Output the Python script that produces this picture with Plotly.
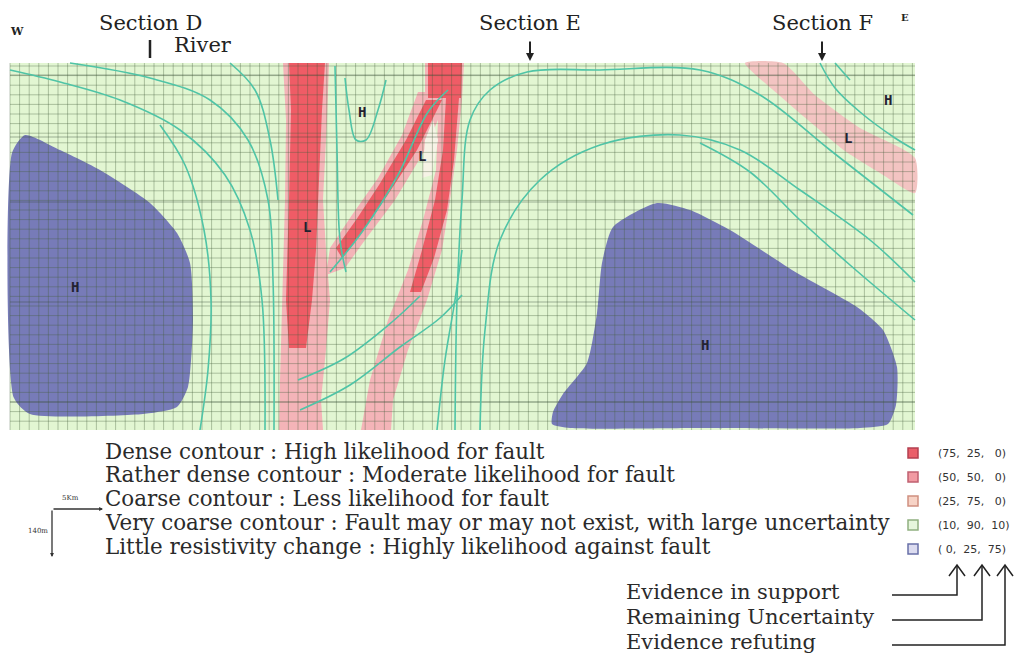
import plotly.graph_objects as go

# ---------------- data (map geometry, image pixel frame) ----------------
map_x = [10, 915]
map_y = [63, 430]
grid_step = 9.6
major_rows = [75, 137, 202, 302, 402]

blue_left = [(25, 135), (60, 150), (100, 170), (150, 203), (177, 233), (190, 263), (193, 320),
             (188, 387), (177, 407), (143, 414), (30, 414), (14, 398), (12, 153)]
blue_right = [(657, 203), (690, 210), (730, 230), (797, 273), (857, 307), (883, 330), (897, 367),
              (896, 405), (888, 424), (860, 428), (700, 428), (570, 428), (552, 424), (553, 412),
              (563, 394), (587, 363), (597, 313), (602, 263), (613, 227)]

pink_regions = [
    [(283, 63), (329, 63), (327, 120), (323, 200), (326, 250), (330, 300), (326, 350), (321, 400),
     (323, 430), (279, 430), (280, 380), (282, 300), (285, 200), (286, 120)],
    [(418, 92), (450, 92), (425, 150), (395, 200), (365, 240), (345, 268), (326, 275), (330, 248),
     (352, 215), (378, 178), (402, 135)],
    [(425, 63), (464, 63), (462, 100), (457, 150), (450, 200), (442, 250), (427, 300), (408, 350),
     (393, 400), (391, 430), (361, 430), (370, 380), (388, 320), (408, 270), (423, 220), (436, 170),
     (438, 120), (425, 100)],
]
pink_band_ne = [(745, 63), (783, 63), (815, 95), (860, 128), (915, 158), (915, 193), (880, 173),
                (845, 151), (815, 126), (780, 96)]
red_regions = [
    [(289, 63), (325, 63), (322, 110), (318, 200), (316, 250), (312, 300), (306, 348), (289, 348),
     (286, 300), (289, 200), (291, 110)],
    [(426, 100), (442, 100), (417, 150), (387, 196), (362, 232), (342, 258), (336, 248), (356, 220),
     (379, 185), (406, 140)],
    [(428, 63), (462, 63), (461, 98), (428, 98)],
    [(446, 98), (459, 98), (454, 160), (447, 210), (434, 258), (421, 292), (410, 292), (422, 250),
     (435, 200), (443, 150)],
]
white_spots = [[(425, 140), (433, 120), (438, 140), (432, 175), (422, 178)]]

contours = [
    [(10, 70), (60, 82), (120, 100), (180, 130), (225, 175), (250, 230), (262, 300), (265, 430)],
    [(70, 63), (150, 78), (210, 100), (248, 140), (268, 200), (273, 280), (274, 430)],
    [(160, 125), (185, 165), (204, 230), (211, 300), (208, 370), (200, 430)],
    [(230, 63), (255, 90), (270, 140), (278, 200)],
    [(335, 66), (337, 150), (340, 240), (346, 272)],
    [(345, 78), (349, 110), (356, 140), (366, 140), (378, 110), (386, 80)],
    [(330, 272), (362, 232), (398, 175), (428, 112), (448, 90)],
    [(300, 410), (350, 385), (400, 347), (440, 318), (462, 295)],
    [(298, 380), (345, 358), (392, 322), (420, 296)],
    [(437, 430), (445, 360), (455, 300), (462, 250)],
    [(455, 430), (457, 300), (462, 200), (470, 120), (490, 90), (527, 72), (600, 70), (700, 70),
     (760, 95), (830, 150), (913, 215)],
    [(480, 430), (485, 330), (500, 240), (540, 180), (600, 145), (680, 135), (740, 150),
     (800, 190), (870, 240), (915, 282)],
    [(700, 143), (750, 172), (800, 220), (850, 265), (915, 320)],
    [(820, 63), (835, 88), (860, 112), (895, 138), (915, 150)],
    [(835, 63), (850, 80)],
]
map_letters = [("H", 362, 112), ("L", 422, 156), ("L", 307, 227), ("H", 75, 287),
               ("H", 705, 345), ("H", 888, 100), ("L", 848, 138)]

sections = [("Section D", 150, 23, False), ("Section E", 530, 23, True), ("Section F", 822, 23, True)]

legend_texts = [
    "Dense contour : High likelihood for fault",
    "Rather dense contour : Moderate likelihood for fault",
    "Coarse contour : Less likelihood for fault",
    "Very coarse contour : Fault may or may not exist, with large uncertainty",
    "Little resistivity change : Highly likelihood against fault",
]
legend_codes = ["(75,  25,   0)", "(50,  50,   0)", "(25,  75,   0)", "(10,  90,  10)", "( 0,  25,  75)"]
swatch_fill = ["#ea5f6a", "#f19aa2", "#f7d3c6", "#e6f6dc", "#dcdcf0"]
swatch_line = ["#b44050", "#c06070", "#d09080", "#90b080", "#6870a8"]
evidence_labels = ["Evidence in support", "Remaining Uncertainty", "Evidence refuting"]

# ---------------- colours ----------------
BG_GREEN = "#e2f6d2"
BLUE = "#777bb8"
PINK = "#f4b4b8"
PINK_NE = "#f3c4c2"
RED = "#ef5c66"
TEAL = "#4fc4a6"
GRID = "rgba(70,95,60,0.36)"

fig = go.Figure()


def poly(pts, color, smooth=False):
    xs = [p[0] for p in pts] + [pts[0][0]]
    ys = [p[1] for p in pts] + [pts[0][1]]
    line = dict(width=0, color=color)
    if smooth:
        line.update(shape="spline", smoothing=0.6)
    fig.add_trace(go.Scatter(x=xs, y=ys, mode="lines", fill="toself", fillcolor=color,
                             line=line, hoverinfo="skip", showlegend=False))


# background of map
poly([(map_x[0], map_y[0]), (map_x[1], map_y[0]), (map_x[1], map_y[1]), (map_x[0], map_y[1])], BG_GREEN)
for r in pink_regions:
    poly(r, PINK)
poly(pink_band_ne, PINK_NE, smooth=True)
for r in red_regions:
    poly(r, RED)
for r in white_spots:
    poly(r, "#f6f3e6")
poly(blue_left, BLUE, smooth=True)
poly(blue_right, BLUE, smooth=True)

# grid
gx, gy = [], []
x = map_x[0]
while x <= map_x[1] + 0.1:
    gx += [x, x, None]
    gy += [map_y[0], map_y[1], None]
    x += grid_step
y = map_y[0] + 3
while y <= map_y[1] + 0.1:
    gx += [map_x[0], map_x[1], None]
    gy += [y, y, None]
    y += grid_step
fig.add_trace(go.Scatter(x=gx, y=gy, mode="lines", line=dict(color=GRID, width=1),
                         hoverinfo="skip", showlegend=False))
mx, my = [], []
for r in major_rows:
    mx += [map_x[0], map_x[1], None]
    my += [r, r, None]
fig.add_trace(go.Scatter(x=mx, y=my, mode="lines", line=dict(color="rgba(50,70,50,0.4)", width=1.2),
                         hoverinfo="skip", showlegend=False))

# contours
for c in contours:
    fig.add_trace(go.Scatter(x=[p[0] for p in c], y=[p[1] for p in c], mode="lines",
                             line=dict(color=TEAL, width=1.6, shape="spline", smoothing=1.0),
                             hoverinfo="skip", showlegend=False))

annotations = []
for t, xx, yy in map_letters:
    annotations.append(dict(x=xx, y=yy, text="<b>%s</b>" % t, showarrow=False,
                            font=dict(family="DejaVu Sans Mono", size=14, color="#222230")))

SERIF = "DejaVu Serif"
for t, xx, yy, arrow in sections:
    annotations.append(dict(x=xx, y=yy, text=t, showarrow=False, font=dict(family=SERIF, size=21, color="#222")))
    if arrow:
        annotations.append(dict(x=xx, y=61, ax=xx, ay=40, xref="x", yref="y", axref="x", ayref="y",
                                showarrow=True, arrowhead=2, arrowsize=0.8, arrowwidth=2, arrowcolor="#222", text=""))
    else:
        fig.add_trace(go.Scatter(x=[xx, xx], y=[40, 58], mode="lines", line=dict(color="#222", width=2.5),
                                 hoverinfo="skip", showlegend=False))
annotations.append(dict(x=203, y=45, text="River", showarrow=False, font=dict(family=SERIF, size=21, color="#222")))
annotations.append(dict(x=17, y=31, text="<b>W</b>", showarrow=False, font=dict(family=SERIF, size=11, color="#222")))
annotations.append(dict(x=905, y=17, text="<b>E</b>", showarrow=False, font=dict(family=SERIF, size=10, color="#222")))

# legend text
for i, t in enumerate(legend_texts):
    annotations.append(dict(x=103, y=451 + i * 23.8, text=t, xanchor="left", showarrow=False,
                            font=dict(family=SERIF, size=21.4, color="#2a2a2a")))
    annotations.append(dict(x=936, y=453 + i * 24, text=legend_codes[i], xanchor="left", showarrow=False,
                            font=dict(family="DejaVu Sans", size=11, color="#333")))
fig.add_trace(go.Scatter(x=[913] * 5, y=[453 + i * 24 for i in range(5)], mode="markers",
                         marker=dict(symbol="square", size=10, color=swatch_fill,
                                     line=dict(color=swatch_line, width=1.5)),
                         hoverinfo="skip", showlegend=False))

# scale bar
annotations.append(dict(x=103, y=509, ax=52, ay=509, xref="x", yref="y", axref="x", ayref="y", text="",
                        showarrow=True, arrowhead=2, arrowsize=0.6, arrowwidth=1.3, arrowcolor="#333"))
annotations.append(dict(x=52, y=557, ax=52, ay=509, xref="x", yref="y", axref="x", ayref="y", text="",
                        showarrow=True, arrowhead=2, arrowsize=0.6, arrowwidth=1.3, arrowcolor="#333"))
annotations.append(dict(x=70, y=498, text="5Km", showarrow=False, font=dict(family=SERIF, size=7, color="#333")))
annotations.append(dict(x=38, y=531, text="140m", showarrow=False, font=dict(family=SERIF, size=7, color="#333")))

# evidence labels and connectors
arrow_x = [957, 982, 1005]
for i, t in enumerate(evidence_labels):
    yy = 592 + i * 25
    annotations.append(dict(x=624, y=yy, text=t, xanchor="left", showarrow=False,
                            font=dict(family=SERIF, size=21, color="#2a2a2a")))
    fig.add_trace(go.Scatter(x=[892, arrow_x[i], arrow_x[i]], y=[yy + 3, yy + 3, 566], mode="lines",
                             line=dict(color="#222", width=1.5), hoverinfo="skip", showlegend=False))
    fig.add_trace(go.Scatter(x=[arrow_x[i] - 8, arrow_x[i], arrow_x[i] + 8], y=[576, 565, 576], mode="lines",
                             line=dict(color="#222", width=1.5), hoverinfo="skip", showlegend=False))

fig.update_layout(
    width=1017, height=657, margin=dict(l=0, r=0, t=0, b=0),
    paper_bgcolor="white", plot_bgcolor="white",
    xaxis=dict(range=[0, 1017], visible=False, fixedrange=True),
    yaxis=dict(range=[657, 0], visible=False, fixedrange=True),
    annotations=annotations, showlegend=False,
)
fig.write_html("out.html")
